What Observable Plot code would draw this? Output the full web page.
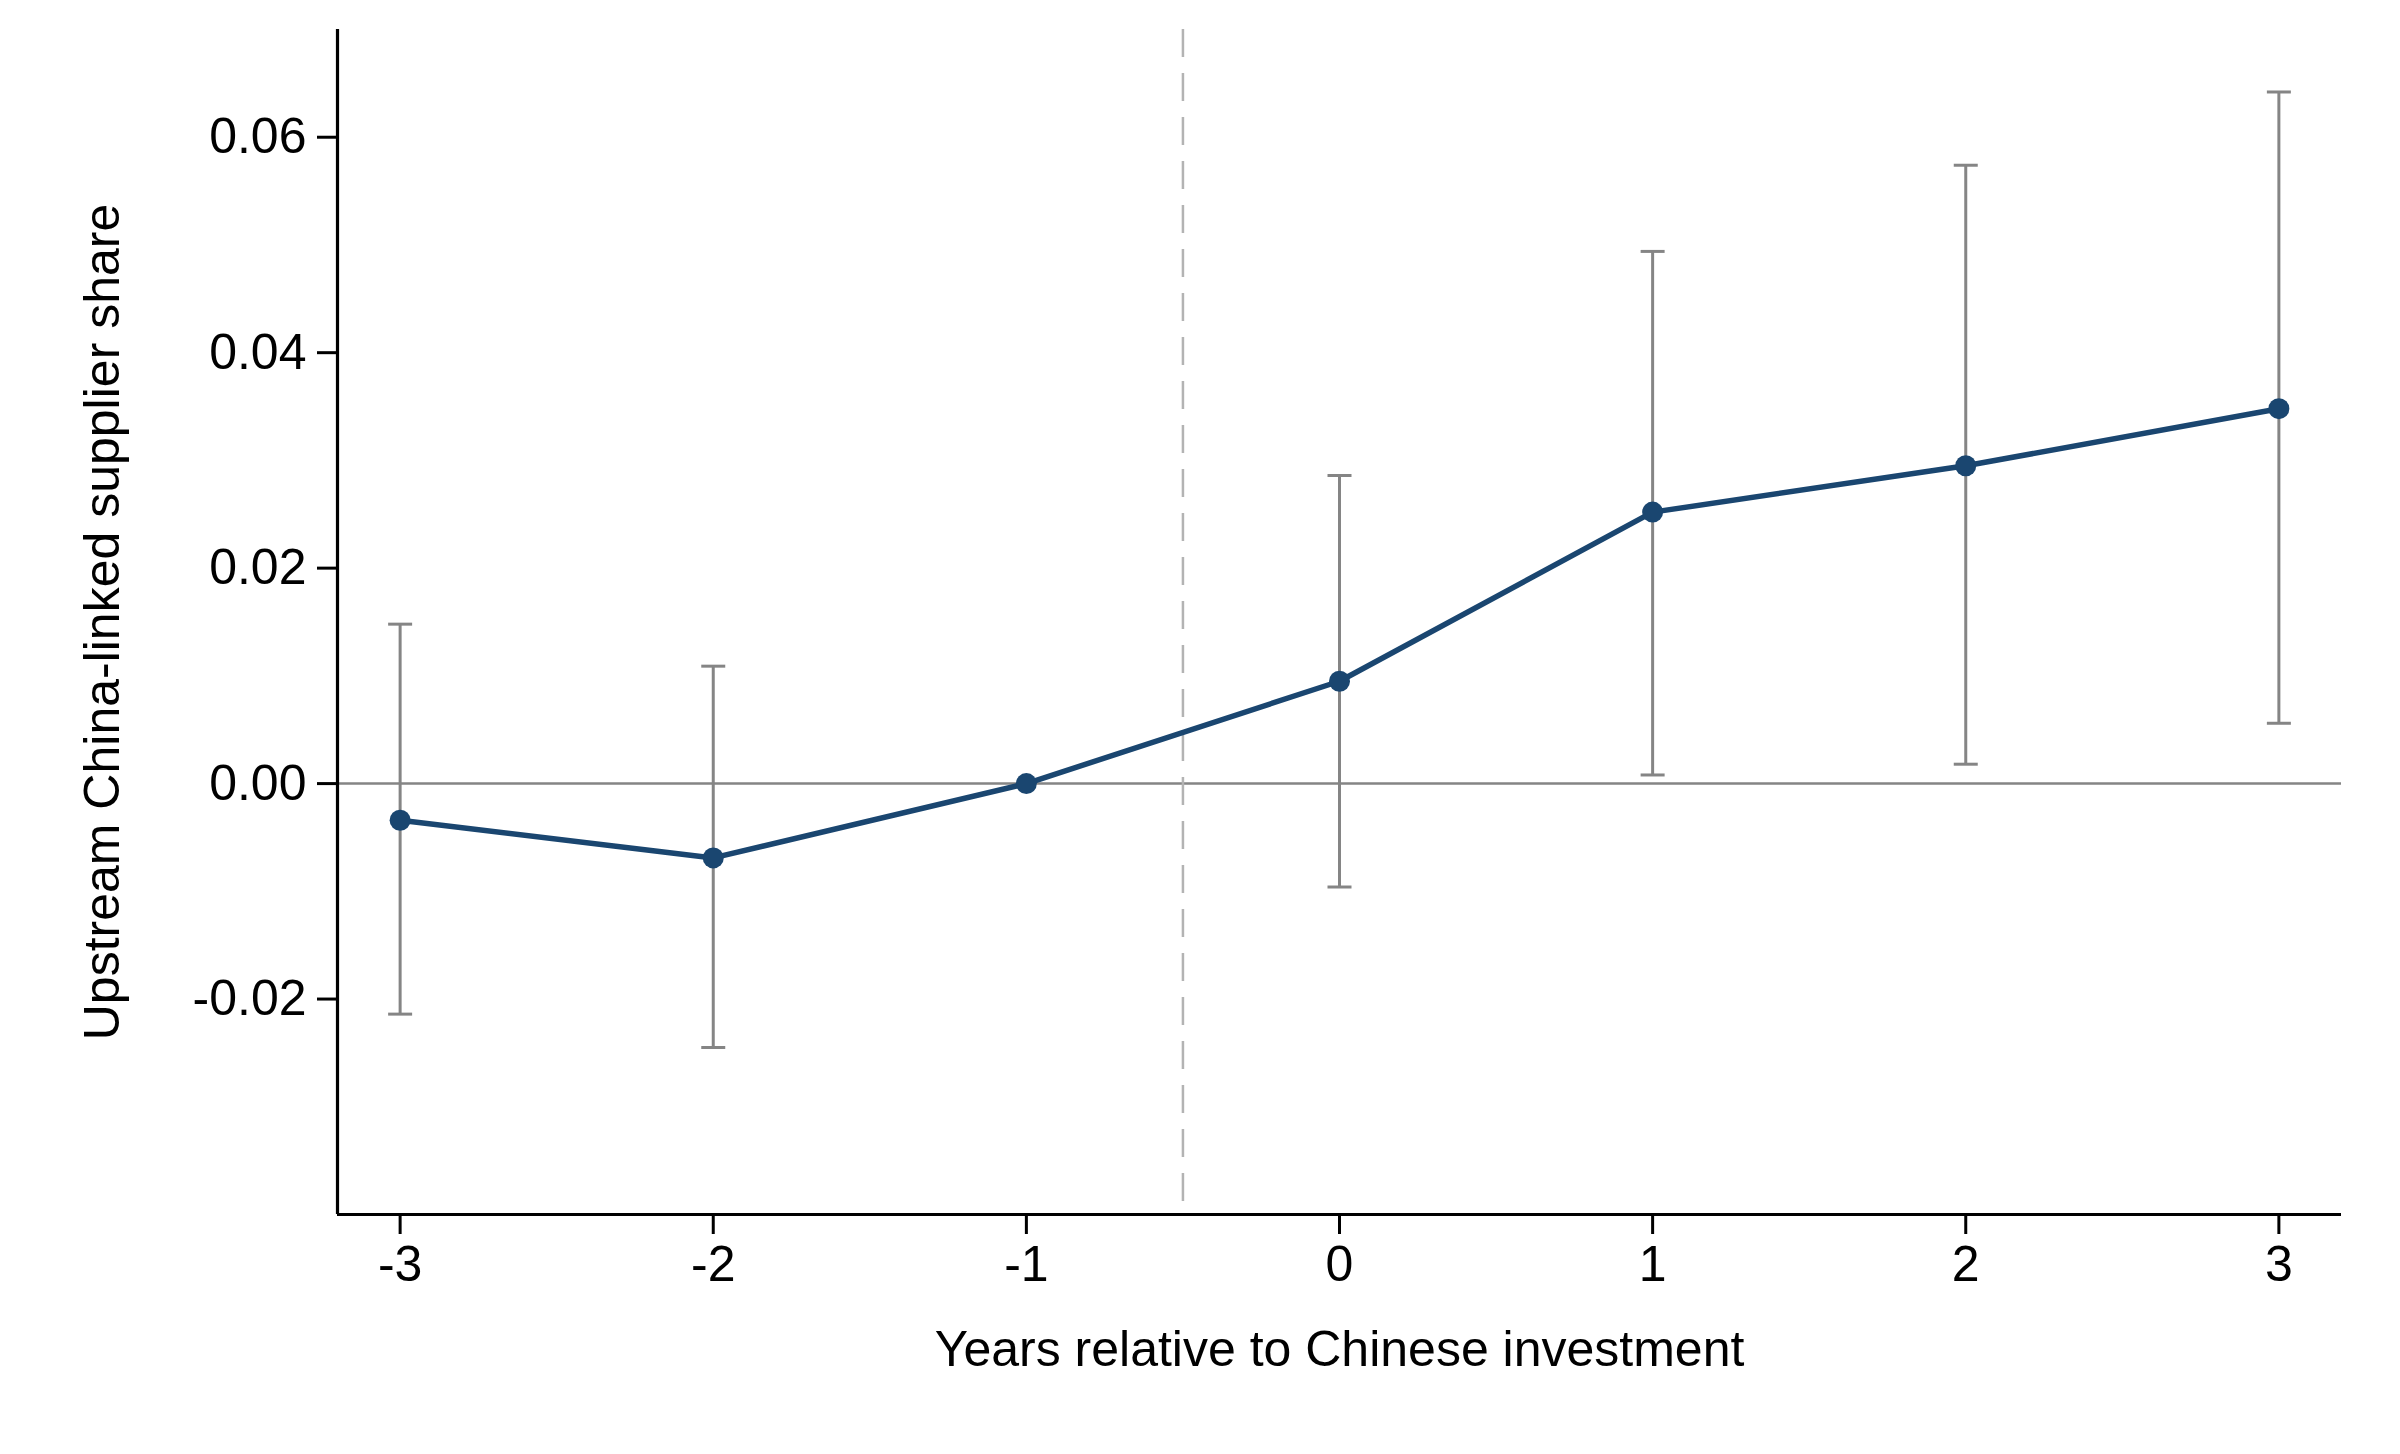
<!DOCTYPE html>
<html>
<head>
<meta charset="utf-8">
<script src="https://cdn.jsdelivr.net/npm/d3@7"></script>
<script src="https://cdn.jsdelivr.net/npm/@observablehq/plot@0.6"></script>
<style>
  html, body { margin: 0; padding: 0; background: #fff; }
  #chart svg { display: block; }
</style>
</head>
<body>
<div id="chart"></div>
<script>
// Event-study estimates
const years  = [-3, -2, -1, 0, 1, 2, 3];
const coef   = [-0.0034, -0.0069, 0, 0.0095, 0.0252, 0.0295, 0.0348];
const ciLow  = [-0.0214, -0.0245, null, -0.0096, 0.0008, 0.0018, 0.0056];
const ciHigh = [0.0148, 0.0109, null, 0.0286, 0.0494, 0.0574, 0.0642];

const xTicks = [-3, -2, -1, 0, 1, 2, 3];
const yTicks = [-0.02, 0, 0.02, 0.04, 0.06];
const xDomain = [-3.2, 3.2];
const yDomain = [-0.04, 0.07];
const eventLine = [-0.5];
const zeroLine = [0];

const xLabel = "Years relative to Chinese investment";
const yLabel = "Upstream China-linked supplier share";

const points = years.map((t, i) => ({t, b: coef[i], lo: ciLow[i], hi: ciHigh[i]}));
const bars = points.filter(d => d.lo != null);
const caps = bars.flatMap(d => [{t: d.t, v: d.lo}, {t: d.t, v: d.hi}]);

const capSymbol = {
  draw(ctx, size) {
    const h = Math.sqrt(size / Math.PI);
    ctx.moveTo(-h, 0);
    ctx.lineTo(h, 0);
  }
};

const navy = "#1a4670";
const gray = "#858585";

const chart = Plot.plot({
  width: 2400,
  height: 1454,
  marginLeft: 337,
  marginRight: 59,
  marginTop: 29,
  marginBottom: 240,
  style: {fontFamily: "'Liberation Sans', Arial, Helvetica, sans-serif", fontSize: "50px", color: "#000", background: "#fff"},
  x: {domain: xDomain},
  y: {domain: yDomain},
  marks: [
    Plot.ruleY(zeroLine, {stroke: gray, strokeWidth: 2.5}),
    Plot.ruleX(eventLine, {stroke: "#b3b3b3", strokeWidth: 2.5, strokeDasharray: "28,16"}),
    Plot.ruleX(bars, {x: "t", y1: "lo", y2: "hi", stroke: gray, strokeWidth: 3}),
    Plot.dot(caps, {x: "t", y: "v", symbol: capSymbol, r: 12, stroke: gray, strokeWidth: 3, fill: "none"}),
    Plot.line(points, {x: "t", y: "b", stroke: navy, strokeWidth: 5.5}),
    Plot.dot(points, {x: "t", y: "b", r: 10.5, fill: navy, stroke: "none"}),
    Plot.ruleX([xDomain[0]], {stroke: "#000", strokeWidth: 3.2}),
    Plot.ruleY([yDomain[0]], {stroke: "#000", strokeWidth: 3.2}),
    Plot.axisX({ticks: xTicks, tickSize: 20, tickPadding: 11, tickFormat: d => String(d).replace("−", "-"), label: null, strokeWidth: 3}),
    Plot.axisY({ticks: yTicks, tickSize: 20, tickPadding: 11, tickFormat: d => d.toFixed(2).replace("−", "-"), label: null, strokeWidth: 3}),
    Plot.text([xLabel], {text: d => d, frameAnchor: "bottom", dy: 135, textAnchor: "middle", lineAnchor: "middle", fontSize: 50, fill: "#000"}),
    Plot.text([yLabel], {text: d => d, frameAnchor: "left", dx: -235, rotate: -90, textAnchor: "middle", lineAnchor: "middle", fontSize: 50, fill: "#000"})
  ]
});

document.getElementById("chart").appendChild(chart);
</script>
</body>
</html>
